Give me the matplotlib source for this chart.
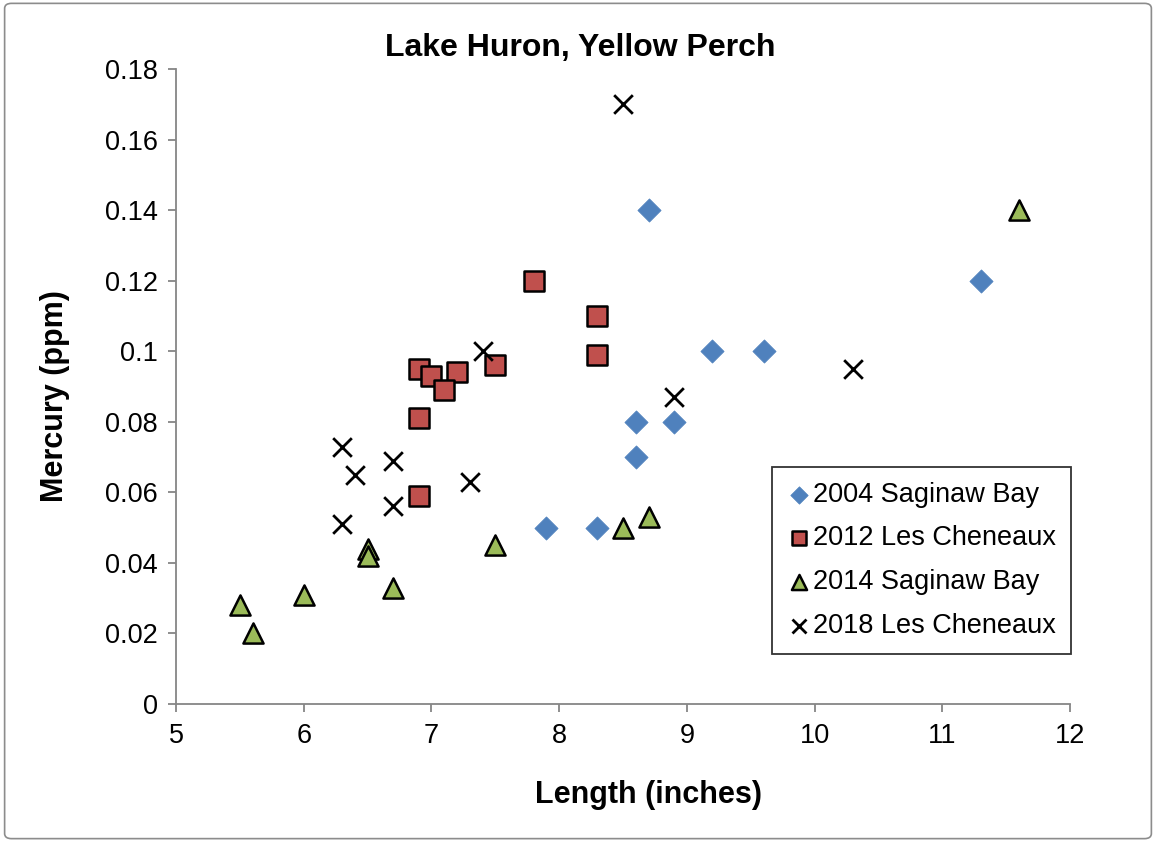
import matplotlib
matplotlib.use("Agg")
import matplotlib.pyplot as plt
from matplotlib.patches import FancyBboxPatch

plt.rcParams['font.family'] = ['Liberation Sans', 'DejaVu Sans']

# 2004 Saginaw Bay
sb04_x = [8.7, 11.3, 9.2, 9.6, 8.6, 8.9, 8.6, 7.9, 8.3]
sb04_y = [0.14, 0.12, 0.10, 0.10, 0.08, 0.08, 0.07, 0.05, 0.05]
# 2012 Les Cheneaux
lc12_x = [7.8, 8.3, 8.3, 6.9, 7.0, 7.2, 7.1, 7.5, 6.9, 6.9]
lc12_y = [0.12, 0.11, 0.099, 0.095, 0.093, 0.094, 0.089, 0.096, 0.081, 0.059]
# 2014 Saginaw Bay
sb14_x = [11.6, 5.5, 5.6, 6.0, 6.5, 6.5, 6.7, 7.5, 8.5, 8.7]
sb14_y = [0.14, 0.028, 0.020, 0.031, 0.044, 0.042, 0.033, 0.045, 0.050, 0.053]
# 2018 Les Cheneaux
lc18_x = [8.5, 7.4, 10.3, 8.9, 6.3, 6.4, 6.7, 7.3, 6.7, 6.3]
lc18_y = [0.17, 0.10, 0.095, 0.087, 0.073, 0.065, 0.069, 0.063, 0.056, 0.051]

x_ticks = [5, 6, 7, 8, 9, 10, 11, 12]
y_ticks = [0, 0.02, 0.04, 0.06, 0.08, 0.1, 0.12, 0.14, 0.16, 0.18]
y_tick_labels = ['0', '0.02', '0.04', '0.06', '0.08', '0.1', '0.12', '0.14', '0.16', '0.18']

fig = plt.figure(figsize=(11.56, 8.42), dpi=100)
border = FancyBboxPatch((0.004, 0.004), 0.992, 0.992, boxstyle="round,pad=0,rounding_size=0.006",
                        transform=fig.transFigure, facecolor='none', edgecolor='#8c8c8c', lw=1.2,
                        zorder=10)
fig.patches.append(border)

ax = fig.add_axes([0.15225, 0.164, 0.7734, 0.7538])
ax.set_facecolor('none')

ax.scatter(sb04_x, sb04_y, marker='D', s=140, c='#4F81BD', edgecolors='#4F81BD', linewidths=0.5,
           label='2004 Saginaw Bay', zorder=3)
ax.scatter(lc12_x, lc12_y, marker='s', s=200, c='#C0504D', edgecolors='black', linewidths=1.8,
           label='2012 Les Cheneaux', zorder=3)
ax.scatter(sb14_x, sb14_y, marker='^', s=210, c='#9BBB59', edgecolors='black', linewidths=1.8,
           label='2014 Saginaw Bay', zorder=3)
ax.scatter(lc18_x, lc18_y, marker='x', s=180, c='black', linewidths=2.0,
           label='2018 Les Cheneaux', zorder=4)

ax.set_xlim(5, 12)
ax.set_ylim(0, 0.18)
ax.set_xticks(x_ticks)
ax.set_xticklabels([str(v) for v in x_ticks])
ax.set_yticks(y_ticks)
ax.set_yticklabels(y_tick_labels)

for s in ['top', 'right']:
    ax.spines[s].set_visible(False)
for s in ['left', 'bottom']:
    ax.spines[s].set_color('#868686')
    ax.spines[s].set_linewidth(1.3)
ax.tick_params(axis='both', direction='out', length=6, width=1.3, color='#868686',
               labelsize=19.5)
ax.tick_params(axis='y', pad=7)
ax.tick_params(axis='x', pad=8)

ax.set_xlabel('Length (inches)', fontsize=22, fontweight='bold')
ax.xaxis.set_label_coords(0.528, -0.156)
ax.xaxis.label.set_verticalalignment('baseline')
ax.set_ylabel('Mercury (ppm)', fontsize=22, fontweight='bold')
ax.yaxis.set_label_coords(-0.1264, 0.485)
ax.yaxis.label.set_verticalalignment('baseline')

fig.text(0.5017, 1 - 56 / 842, 'Lake Huron, Yellow Perch', fontsize=23, fontweight='bold',
         ha='center', va='baseline')

leg = ax.legend(loc='upper left', bbox_to_anchor=(0.6667, 0.3734),
                fontsize=19.5, frameon=True, fancybox=False, edgecolor='black',
                handletextpad=0.05, labelspacing=0.65, borderpad=0.55, handlelength=0.9,
                borderaxespad=0, markerscale=0.75, scatterpoints=1)
leg.get_frame().set_linewidth(1.3)

fig.savefig('out.png', dpi=100)
